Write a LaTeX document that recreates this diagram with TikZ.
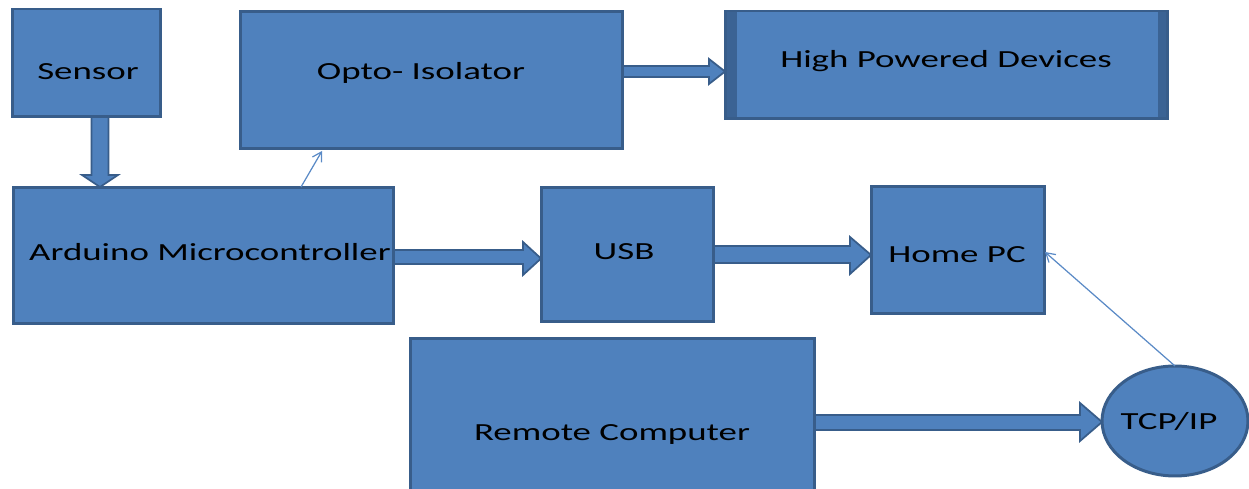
\documentclass[tikz,border=0pt]{standalone}
\usepackage{fontspec}
\setmainfont{Carlito}
\usetikzlibrary{shapes.geometric,arrows.meta,calc}
\definecolor{boxfill}{HTML}{4F81BD}
\definecolor{boxline}{HTML}{385D8A}
\definecolor{stripe}{HTML}{3B6394}
\definecolor{thinblue}{HTML}{5A8AC6}
\newcommand\widetext[1]{\scalebox{1.5}[1]{#1}}
\begin{document}
\begin{tikzpicture}[x=0.02cm,y=-0.02cm,
  box/.style={draw=boxline,fill=boxfill,line width=1.7pt,inner sep=0pt,outer sep=0pt},
  lbl/.style={anchor=base,inner sep=0pt,font=\fontsize{14}{16}\selectfont,text=black},
  barrow/.style={draw=boxline,fill=boxfill,line width=1pt,line join=miter},
  thinarrow/.style={draw=thinblue,line width=0.7pt,-{Straight Barb[length=5pt,width=6pt]}}]
\useasboundingbox (0,0) rectangle (1249,489);
\clip (0,0) rectangle (1249,489);
% boxes
\node[box,minimum width=2.98cm,minimum height=2.16cm] (sensor) at (86.5,63) {};
\node[box,minimum width=7.66cm,minimum height=2.76cm] (opto) at (431.5,80) {};
\node[box,minimum width=8.86cm,minimum height=2.16cm,
  path picture={
    \fill[stripe] (path picture bounding box.north west) rectangle ($(path picture bounding box.south west)+(0.24cm,0)$);
    \fill[stripe] ($(path picture bounding box.north east)+(-0.2cm,0)$) rectangle (path picture bounding box.south east);
  }] (hpd) at (946.5,65) {};
\node[box,minimum width=7.62cm,minimum height=2.74cm] (arduino) at (203.5,255.5) {};
\node[box,minimum width=3.46cm,minimum height=2.70cm] (usb) at (627.5,254.5) {};
\node[box,minimum width=3.48cm,minimum height=2.56cm] (homepc) at (958,250) {};
\node[box,minimum width=8.10cm,minimum height=3.24cm] (remote) at (612.5,419) {};
\node[box,ellipse,minimum width=2.92cm,minimum height=2.20cm] (tcp) at (1175,421) {};
% labels
\node[lbl] (tsensor) at (88,80) {\widetext{Sensor}};
\node[lbl] (topto) at (421,80) {\widetext{Opto- Isolator}};
\node[lbl] (thpd) at (946,68) {\widetext{High Powered Devices}};
\node[lbl] (tarduino) at (210,261) {\widetext{Arduino Microcontroller}};
\node[lbl] (tusb) at (624,260) {\widetext{USB}};
\node[lbl] (thome) at (957,263) {\widetext{Home PC}};
\node[lbl] (tremote) at (612,441) {\widetext{Remote Computer}};
\node[lbl] (ttcp) at (1169,430) {\widetext{TCP/IP}};
% block arrows
\draw[barrow] (91.5,0 |- sensor.south) -- (91.5,175) -- (82,175) -- (100,0 |- arduino.north)
  -- (118,175) -- (108.5,175) -- (108.5,0 |- sensor.south) -- cycle;
\draw[barrow] (opto.east |- 0,66) -- (709,66) -- (709,59) -- (hpd.west |- 0,71.5)
  -- (709,84) -- (709,77) -- (opto.east |- 0,77) -- cycle;
\draw[barrow] (arduino.east |- 0,250) -- (523,250) -- (523,242) -- (usb.west |- 0,258.5)
  -- (523,275) -- (523,264) -- (arduino.east |- 0,264) -- cycle;
\draw[barrow] (usb.east |- 0,246) -- (850,246) -- (850,237) -- (homepc.west |- 0,255)
  -- (850,274) -- (850,263) -- (usb.east |- 0,263) -- cycle;
\draw[barrow] (remote.east |- 0,415) -- (1080,415) -- (1080,403) -- (tcp.west |- 0,422)
  -- (1080,441) -- (1080,430) -- (remote.east |- 0,430) -- cycle;
% thin arrows
\draw[thinarrow] (301,0 |- arduino.north) -- (322,151);
\draw[thinarrow] (tcp.north) -- (homepc.east |- 0,252);
\end{tikzpicture}
\end{document}
